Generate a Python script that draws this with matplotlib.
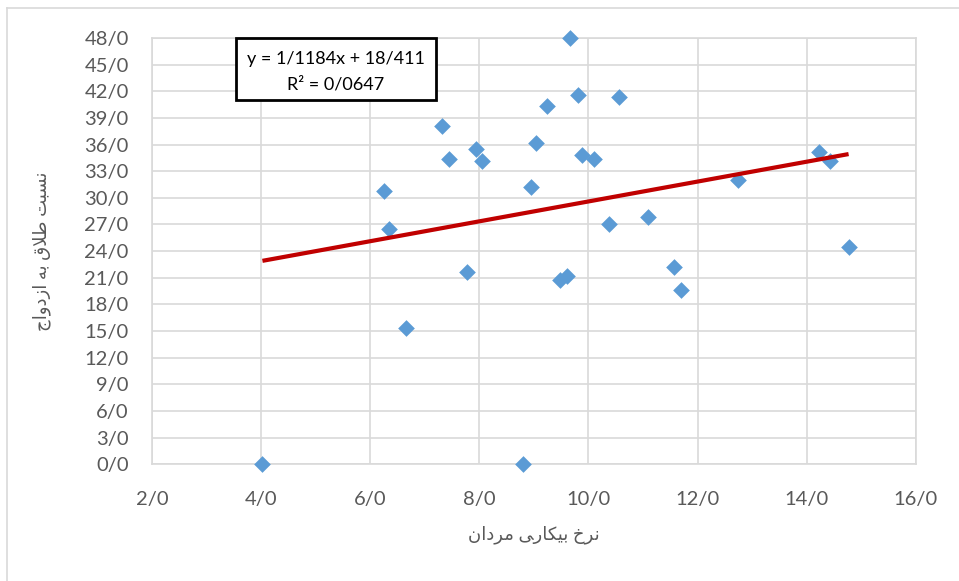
import numpy as np
import matplotlib.pyplot as plt
from matplotlib.patches import Rectangle

# data
unemployment_men = [4.02, 8.80, 6.25, 6.34, 6.66, 7.31, 7.44, 7.78, 7.93, 8.04,
                    8.94, 9.03, 9.23, 9.48, 9.60, 9.66, 9.80, 9.89, 10.10, 10.37,
                    10.56, 11.10, 11.56, 11.69, 12.75, 14.23, 14.42, 14.77]
divorce_ratio = [0.0, 0.0, 30.8, 26.5, 15.4, 38.1, 34.4, 21.7, 35.5, 34.1,
                 31.2, 36.2, 40.3, 20.8, 21.2, 48.0, 41.6, 34.8, 34.4, 27.0,
                 41.4, 27.9, 22.2, 19.6, 32.0, 35.2, 34.2, 24.5]

# linear trend as printed on the chart
slope = 1.1184
intercept = 18.411
eq_line1 = "y = 1/1184x + 18/411"
eq_line2 = "R² = 0/0647"

x_ticks = [2, 4, 6, 8, 10, 12, 14, 16]
y_ticks = list(range(0, 49, 3))

# Persian labels, pre-shaped (presentation forms, visual order)
# نرخ بیکاری مردان
x_label = "\uFEE5\uFE8D\uFEA9\uFEAE\uFEE3 \uFBFD\uFEAD\uFE8E\uFB91\uFBFF\uFE91 \uFEA5\uFEAE\uFEE7"
# نسبت طلاق به ازدواج
y_label = "\uFE9D\uFE8D\uFEED\uFEA9\uFEAF\uFE8D \uFEEA\uFE91 \uFED5\uFEFC\uFEC3 \uFE96\uFE92\uFEB4\uFEE7"

plt.rcParams['font.family'] = ['Lato', 'DejaVu Sans']

fig = plt.figure(figsize=(9.59, 5.81), dpi=100)
ax = fig.add_axes([0.1588, 0.2009, 0.7960, 0.7337])

grid_c = "#D9D9D9"
text_c = "#595959"

x = np.array(unemployment_men)
ax.scatter(x, divorce_ratio, marker="D", s=8.5 ** 2, color="#5B9BD5",
           linewidths=0, zorder=3, clip_on=False)

xl = np.array([x.min(), x.max()])
ax.plot(xl, slope * xl + intercept, color="#C00000", lw=3, zorder=4,
        solid_capstyle="butt")

ax.set_xlim(2, 16)
ax.set_ylim(0, 48)
ax.set_xticks(x_ticks)
ax.set_yticks(y_ticks)
ax.set_xticklabels([f"{v}/0" for v in x_ticks])
ax.set_yticklabels([f"{v}/0" for v in y_ticks])
ax.tick_params(length=0, labelsize=14.5, colors=text_c)
ax.tick_params(axis="y", pad=17)
ax.tick_params(axis="x", pad=19)
ax.grid(color=grid_c, lw=1.2)
ax.set_axisbelow(True)
for s in ax.spines.values():
    s.set_color(grid_c)
    s.set_linewidth(1.2)

ax.set_xlabel(x_label, fontsize=13, color=text_c, labelpad=13)
ax.set_ylabel(y_label, fontsize=13, color=text_c, labelpad=24)

# trendline equation box
ax.add_patch(Rectangle((0.1096, 0.8546), 0.262, 0.1454, transform=ax.transAxes,
                       fc="white", ec="black", lw=2, zorder=5, clip_on=False))
ax.text(0.2406, 0.9507, eq_line1, transform=ax.transAxes, ha="center",
        va="center", fontsize=13, color="black", zorder=6)
ax.text(0.2406, 0.892, eq_line2, transform=ax.transAxes, ha="center",
        va="center", fontsize=13, color="black", zorder=6)

# outer chart frame (left and top edges visible)
fig.add_artist(plt.Line2D([0.0075, 0.0075], [0, 0.986], color=grid_c, lw=1.2))
fig.add_artist(plt.Line2D([0.0075, 1], [0.986, 0.986], color=grid_c, lw=1.2))

fig.savefig("out.png", dpi=100)
